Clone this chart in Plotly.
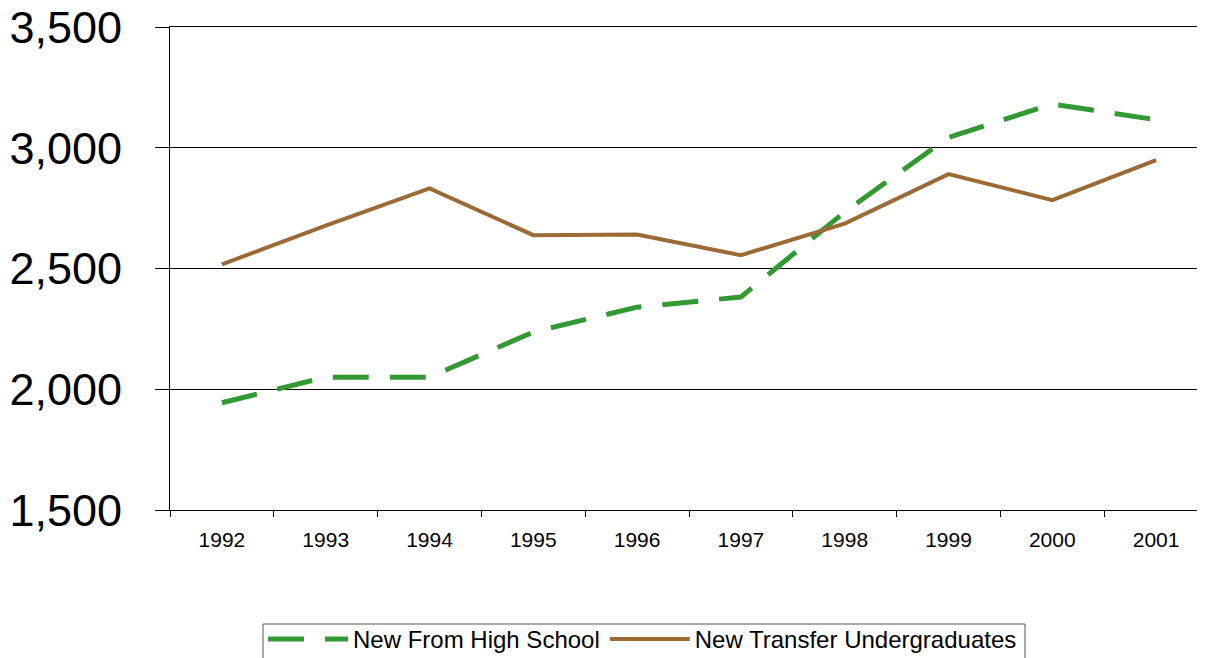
import plotly.graph_objects as go

years = ["1992", "1993", "1994", "1995", "1996", "1997", "1998", "1999", "2000", "2001"]
high_school = [1944, 2050, 2050, 2237, 2340, 2382, 2734, 3043, 3181, 3116]
transfer = [2517, 2678, 2832, 2638, 2641, 2555, 2686, 2891, 2783, 2949]
y_ticks = [1500, 2000, 2500, 3000, 3500]

# page body has an 8px margin, so the figure is offset by (8, 8)
OFF = 8
W, H = 1205 - OFF, 658 - OFF
ml, mr, mt = 170 - OFF, 0, 27 - OFF
plot_bottom = 510 - OFF
mb = H - plot_bottom
pw = W - ml - mr
ph = H - mt - mb
cat_px = 103.8


def px_x(page_x):
    return (page_x - OFF - ml) / pw


def px_y(page_y):
    return (plot_bottom - (page_y - OFF)) / ph


fig = go.Figure()
fig.add_trace(go.Scatter(
    x=years, y=high_school, mode="lines", name="New From High School",
    line=dict(color="#339933", width=5, dash="36px,21px"),
))
fig.add_trace(go.Scatter(
    x=years, y=transfer, mode="lines", name="New Transfer Undergraduates",
    line=dict(color="#9C6A35", width=4),
))

fig.update_layout(
    width=W, height=H,
    margin=dict(l=ml, r=mr, t=mt, b=mb, pad=0, autoexpand=False),
    paper_bgcolor="white", plot_bgcolor="white",
    font=dict(family="Arial, Liberation Sans, sans-serif", color="black"),
    showlegend=True,
    legend=dict(
        orientation="h",
        x=px_x(263), xanchor="left",
        y=px_y(617), yanchor="top",
        borderwidth=0, bgcolor="rgba(0,0,0,0)",
        font=dict(size=24, color="black"),
        itemwidth=80,
        traceorder="normal",
    ),
    shapes=[dict(
        type="rect", xref="paper", yref="paper",
        x0=px_x(263), x1=px_x(1025), y0=px_y(624), y1=px_y(672),
        line=dict(color="#555555", width=1), fillcolor="rgba(0,0,0,0)",
        layer="below",
    )],
)
fig.update_xaxes(
    type="category",
    range=[-0.5, -0.5 + pw / cat_px],
    tickson="boundaries",
    ticks="outside", ticklen=6, tickcolor="black", tickwidth=1,
    showline=True, linecolor="black", linewidth=1, mirror=True,
    showgrid=False,
    tickfont=dict(size=21, color="black"),
    ticklabelstandoff=11,
    automargin=False,
    fixedrange=True,
)
fig.update_yaxes(
    range=[1500, 3500],
    tickvals=y_ticks,
    tickformat=",",
    ticks="outside", ticklen=14, tickcolor="black", tickwidth=1,
    showline=True, linecolor="black", linewidth=1,
    showgrid=True, gridcolor="black", gridwidth=1,
    zeroline=False,
    tickfont=dict(size=45, color="black"),
    ticklabelstandoff=24,
    ticklabeloverflow="allow",
    automargin=False,
    fixedrange=True,
)

fig.write_html("out.html")
